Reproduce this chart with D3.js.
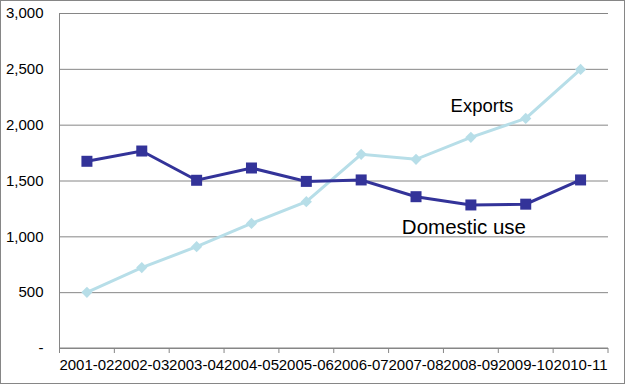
<!DOCTYPE html>
<html>
<head>
<meta charset="utf-8">
<script src="https://cdn.jsdelivr.net/npm/d3@7"></script>
<style>
  body { margin: 0; background: #fff; }
  svg { display: block; font-family: "Liberation Sans", Arial, sans-serif; }
</style>
</head>
<body>
<div id="chart"></div>
<script>
// data
const years = ["2001-02", "2002-03", "2003-04", "2004-05", "2005-06",
               "2006-07", "2007-08", "2008-09", "2009-10", "2010-11"];
const domesticUse = [1672, 1764, 1502, 1612, 1492, 1505, 1355, 1281, 1288, 1505];
const exportsVals = [499, 720, 907, 1116, 1310, 1734, 1690, 1887, 2056, 2495];
const yTicks = [0, 500, 1000, 1500, 2000, 2500, 3000];

const width = 625, height = 384;
const margin = { top: 13, right: 17, bottom: 36, left: 59.5 };

const svg = d3.select("#chart").append("svg")
    .attr("width", width)
    .attr("height", height);

// outer frame
svg.append("rect")
    .attr("x", 0.5).attr("y", 0.5)
    .attr("width", width - 1).attr("height", height - 1)
    .attr("fill", "#fff")
    .attr("stroke", "#868686");

const x = d3.scaleBand()
    .domain(years)
    .range([margin.left, width - margin.right]);

const y = d3.scaleLinear()
    .domain([0, 3000])
    .range([height - margin.bottom, margin.top]);

// gridlines + y labels
const yAxis = g => g
    .attr("transform", `translate(${margin.left},0)`)
    .call(d3.axisLeft(y).tickValues(yTicks)
        .tickSize(0)
        .tickPadding(16)
        .tickFormat(d => d === 0 ? "-" : d3.format(",")(d)))
    .attr("font-family", null)
    .attr("font-size", 15)
    .call(g => g.select(".domain").remove())
    .call(g => g.selectAll(".tick line").clone()
        .attr("x2", width - margin.right - margin.left)
        .attr("stroke", "#868686"))
    .call(g => g.selectAll(".tick text")
        .attr("fill", "#000"));

svg.append("g").call(yAxis);

// left axis line
svg.append("line")
    .attr("x1", margin.left).attr("x2", margin.left)
    .attr("y1", margin.top).attr("y2", height - margin.bottom)
    .attr("stroke", "#868686");

// x axis with boundary tick marks
const xg = svg.append("g")
    .attr("transform", `translate(0,${height - margin.bottom})`);
xg.append("line")
    .attr("x1", margin.left).attr("x2", width - margin.right)
    .attr("stroke", "#868686");
const edges = years.map(d => x(d)).concat([x(years[years.length - 1]) + x.bandwidth()]);
xg.selectAll(".edge")
    .data(edges)
    .join("line")
    .attr("x1", d => d).attr("x2", d => d)
    .attr("y1", 0).attr("y2", 5)
    .attr("stroke", "#868686");
xg.selectAll(".lbl")
    .data(years)
    .join("text")
    .attr("x", d => x(d) + x.bandwidth() / 2)
    .attr("y", 22)
    .attr("text-anchor", "middle")
    .attr("font-size", 15)
    .attr("fill", "#000")
    .text(d => d);

const cx = d => x(d) + x.bandwidth() / 2;
const line = d3.line().x((d, i) => cx(years[i])).y(d => y(d));

// exports
svg.append("path")
    .datum(exportsVals)
    .attr("fill", "none")
    .attr("stroke", "#b7dee8")
    .attr("stroke-width", 3)
    .attr("d", line);
svg.selectAll(".diamond")
    .data(exportsVals)
    .join("path")
    .attr("transform", (d, i) => `translate(${cx(years[i])},${y(d)})`)
    .attr("d", d3.symbol(d3.symbolDiamond2, 80))
    .attr("fill", "#b7dee8");

// domestic use
svg.append("path")
    .datum(domesticUse)
    .attr("fill", "none")
    .attr("stroke", "#333399")
    .attr("stroke-width", 3)
    .attr("d", line);
svg.selectAll(".square")
    .data(domesticUse)
    .join("rect")
    .attr("x", (d, i) => cx(years[i]) - 5.5)
    .attr("y", d => y(d) - 5.5)
    .attr("width", 11)
    .attr("height", 11)
    .attr("fill", "#333399");

// series labels
svg.append("text")
    .attr("x", x("2008-09") + 38.5)
    .attr("y", y(2116))
    .attr("text-anchor", "middle")
    .attr("font-size", 18.5)
    .attr("fill", "#000")
    .text("Exports");
svg.append("text")
    .attr("x", x("2008-09") + 20.5)
    .attr("y", y(1018))
    .attr("text-anchor", "middle")
    .attr("font-size", 20.5)
    .attr("fill", "#000")
    .text("Domestic use");
</script>
</body>
</html>
